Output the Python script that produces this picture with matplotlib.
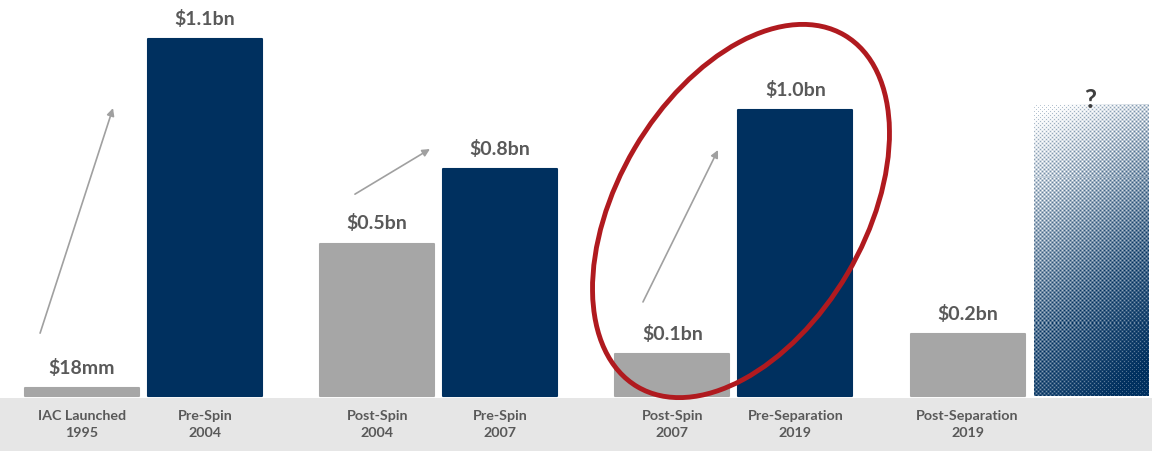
import numpy as np
import matplotlib.pyplot as plt
from matplotlib.patches import Ellipse
from matplotlib.transforms import IdentityTransform

plt.rcParams['font.family'] = ['Lato', 'DejaVu Sans']

# data (bn USD, bar heights as drawn)
categories = ['IAC Launched\n1995', 'Pre-Spin\n2004', 'Post-Spin\n2004', 'Pre-Spin\n2007',
              'Post-Spin\n2007', 'Pre-Separation\n2019', 'Post-Separation\n2019', '']
values = [0.025, 1.1, 0.47, 0.70, 0.13, 0.88, 0.19, 0.90]
value_labels = ['$18mm', '$1.1bn', '$0.5bn', '$0.8bn', '$0.1bn', '$1.0bn', '$0.2bn', '?']
kinds = ['post', 'pre', 'post', 'pre', 'post', 'pre', 'post', 'future']
positions = [0, 1, 2.4, 3.4, 4.8, 5.8, 7.2, 8.2]

NAVY = '#00305f'
GRAY = '#a6a6a6'
TEXT = '#595959'
colors = {'post': GRAY, 'pre': NAVY, 'future': 'none'}

fig = plt.figure(figsize=(11.52, 4.51), dpi=100)
ax = fig.add_axes([0, 0, 1, 1])
ax.set_xlim(-0.667, 8.70)
ax.set_ylim(-0.169, 1.22)
ax.axis('off')

# bottom label band
ax.axhspan(-0.169, -0.005, color='#e6e6e6', lw=0, zorder=0)

width = 0.927
bars = ax.bar(positions, values, width=width,
              color=[colors[k] for k in kinds], zorder=2)
for b, k in zip(bars, kinds):
    if k != 'future':
        b.set_edgecolor(b.get_facecolor())
        b.set_linewidth(1.5)
        b.set_joinstyle('round')
    else:
        b.set_linewidth(0)

# halftone gradient for the unknown bar
fb = bars[-1]
nh, nw = 291, 115
yy, xx = np.mgrid[0:nh, 0:nw]
v = yy / (nh - 1)
h = xx / (nw - 1)
t = 0.85 * v ** 0.8 + 0.25 * h - 0.05
d = np.cos(2 * np.pi * xx / 4.0) * np.cos(2 * np.pi * yy / 4.0)
amt = np.clip(t * 1.05 + 0.3 * d - 0.02, 0, 1)
navy = np.array([0, 48, 95]) / 255.0
img = np.ones((nh, nw, 3)) * (1 - amt[..., None]) + navy * amt[..., None]
x0 = fb.get_x()
im = ax.imshow(img, extent=(x0, x0 + fb.get_width(), 0, fb.get_height()),
               aspect='auto', interpolation='nearest', zorder=2)
im.set_clip_path(fb)

# value labels
for p, val, lab, k in zip(positions, values, value_labels, kinds):
    if k == 'future':
        ax.annotate(lab, (p, val), xytext=(0, 3), textcoords='offset points',
                    ha='center', va='center', fontsize=19, fontweight='bold',
                    color='#404040', zorder=4)
    else:
        ax.annotate(lab, (p, val), xytext=(0, 8), textcoords='offset points',
                    ha='center', va='bottom', fontsize=14, fontweight='bold',
                    color=TEXT, zorder=4)

# category labels in the band
for p, c in zip(positions, categories):
    ax.text(p, -0.088, c, ha='center', va='center', fontsize=10.3,
            fontweight='bold', color=TEXT, linespacing=1.45, zorder=3)

# growth arrows
arrows = [((-0.341, 0.194), (0.252, 0.887)),
          ((2.219, 0.622), (2.829, 0.761)),
          ((4.561, 0.290), (5.171, 0.758))]
for start, end in arrows:
    ax.annotate('', xy=end, xytext=start,
                arrowprops=dict(arrowstyle='-|>', color='#a0a0a0', lw=1.2,
                                mutation_scale=11, shrinkA=0, shrinkB=0),
                zorder=3)

# red highlight ellipse (pixel coordinates)
ell = Ellipse((741, 451 - 211), width=247, height=408, angle=-30.5,
              transform=IdentityTransform(), fill=False,
              edgecolor='#b01a1f', lw=3.5, zorder=5)
fig.add_artist(ell)

fig.savefig('out.png', dpi=100)
